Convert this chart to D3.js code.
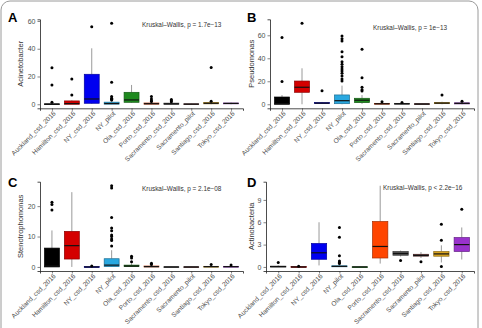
<!DOCTYPE html>
<html lang="en">
<head>
    <meta charset="UTF-8">
    <title>Boxplots by city</title>
    <script src="https://d3js.org/d3.v7.min.js"></script>
    <style>
        body { margin: 0; background: #fff; }
        svg { display: block; font-family: "Liberation Sans", Arial, sans-serif; }
    </style>
</head>
<body>
<svg width="482" height="328"></svg>
<script>
    // categories + fill colours (same order in every panel)
    const categories = ["Auckland_csd_2016", "Hamilton_csd_2016", "NY_csd_2016", "NY_pilot", "Ola_csd_2016",
        "Porto_csd_2016", "Sacramento_csd_2016", "Sacramento_pilot", "Santiago_csd_2016", "Tokyo_csd_2016"];
    const fills = ["#000000", "#d40000", "#0000f0", "#29a8e0", "#1f8a1f",
        "#ff4500", "#555555", "#6e3b3b", "#daa520", "#9932cc"];

    // five numbers per box: [lower whisker, q1, median, q3, upper whisker]
    const acinetoBox = [[0, 0, 0, 0.3, 0.6], [0, 0, 0.5, 2.4, 2.8], [0.2, 0.7, 3.8, 21.6, 40.3], [0, 0.1, 0.5, 1.5, 2.5],
        [1, 1.4, 3.1, 8.6, 13.9], [0, 0.1, 0.4, 0.9, 1.5], [0, 0, 0.3, 0.8, 1.2], [0, 0, 0.1, 0.3, 0.5],
        [0, 0.3, 0.7, 1.3, 1.8], [0, 0.3, 0.6, 0.9, 1.2]];
    const acinetoOut = [[26.3, 13.9, 1.4], [18.2, 6.7], [55.8], [58.3, 15.8, 5.5, 4.3, 3.6, 3.0], [],
        [5.5, 3.8, 2.6, 1.9], [3.5, 2.6, 1.8], [], [26.5, 2.2], []];

    const pseudoBox = [[0, 0, 0.5, 6.3, 8], [0, 10.4, 14.8, 20.2, 31.3], [0.2, 0.6, 1, 1.4, 2], [0, 0.5, 3.1, 8.1, 16.2],
        [0.3, 1.4, 3.5, 5.2, 8], [0, 0.1, 0.4, 0.8, 1.3], [0, 0.1, 0.4, 0.8, 1.2], [0, 0, 0.2, 0.5, 0.8],
        [0, 0.5, 1, 1.5, 2.2], [0, 0.3, 0.8, 1.2, 1.8]];
    const pseudoOut = [[58, 19.7], [70.4], [11.8],
        [59.4, 57, 55, 45.7, 41.4, 37, 34.8, 32.7, 30.7, 29, 27, 24.6, 22, 20.3],
        [47.8, 23.1, 14.8, 12.7, 11.5], [2.2], [1.6], [], [8], [2.6]];

    const stenoBox = [[0, 0, 0.3, 6.2, 12], [0, 2.6, 7, 11.7, 24.6], [0, 0, 0, 0.1, 0.2], [0, 0.1, 0.6, 2.7, 5.5],
        [0, 0.1, 0.3, 0.6, 1.2], [0, 0, 0.1, 0.3, 0.5], [0, 0, 0, 0.05, 0.1], [0, 0, 0, 0.05, 0.1],
        [0, 0, 0.1, 0.2, 0.4], [0, 0, 0.1, 0.2, 0.4]];
    const stenoOut = [[21.3, 20.5, 18.7], [], [0.3], [26.7, 26, 16.3, 12.8, 11.9, 10.5, 10, 9.2, 8.7, 6.9],
        [3.5, 2.9, 1.7], [1.2, 0.8], [], [], [0.8], [0.6]];

    const actinoBox = [[0, 0, 0.05, 0.1, 0.2], [0, 0, 0, 0.05, 0.1], [0.2, 1.03, 1.9, 3.15, 6.0], [0, 0.02, 0.08, 0.15, 0.3],
        [0, 0, 0, 0.02, 0.05], [0.45, 1.2, 2.75, 6.1, 10.9], [1.4, 1.57, 1.8, 2.07, 2.2], [1.2, 1.45, 1.55, 1.7, 2.0],
        [0.6, 1.44, 1.75, 2.07, 2.9], [1.0, 2.07, 3.0, 3.95, 5.3]];
    const actinoOut = [[0.6], [0.1], [], [5.3, 4.0, 1.5, 0.8, 0.6, 0.45], [], [], [0.86], [0.7],
        [5.74, 3.6, 0.05], [7.75]];

    const yTitles = ["Acinetobacter", "Pseudomonas", "Stenotrophomonas", "Actinobacteria"];
    const letters = ["A", "B", "C", "D"];
    const testLabels = ["Kruskal\u2013Wallis, p = 1.7e\u221213", "Kruskal\u2013Wallis, p = 1e\u221213",
        "Kruskal\u2013Wallis, p = 2.1e\u221208", "Kruskal\u2013Wallis, p < 2.2e\u221216"];
    const yTicks = [[0, 20, 40, 60], [0, 20, 40, 60], [0, 10, 20], [0, 3, 6, 9]];

    // panel layout
    const panels = [
        {box: acinetoBox, out: acinetoOut, x0: 40, x1: 243, top: 19.3, bottom: 108.3, lx: 8, ly: 22, tx: 142, ty: 27, ytx: 23},
        {box: pseudoBox, out: pseudoOut, x0: 270, x1: 474, top: 19.3, bottom: 108.3, lx: 247, ly: 22, tx: 373, ty: 30, ytx: 254},
        {box: stenoBox, out: stenoOut, x0: 40, x1: 243, top: 181.7, bottom: 271, lx: 8, ly: 187, tx: 142, ty: 191, ytx: 23},
        {box: actinoBox, out: actinoOut, x0: 266, x1: 474, top: 181.7, bottom: 271, lx: 247, ly: 187, tx: 383, ty: 190, ytx: 254}
    ];

    const svg = d3.select("svg");

    // outer rounded frame
    svg.append("rect").attr("x", 1).attr("y", 1).attr("width", 477).attr("height", 340)
        .attr("rx", 9).attr("fill", "none").attr("stroke", "#9a9a9a").attr("stroke-width", 1);

    panels.forEach(function (p, i) {
        const g = svg.append("g");

        // y domain: data range expanded 5% on each side (ggplot default)
        const allVals = d3.merge([d3.merge(p.box), d3.merge(p.out)]);
        const lo = d3.min(allVals), hi = d3.max(allVals);
        const pad = (hi - lo) * 0.05;
        const y = d3.scaleLinear().domain([lo - pad, hi + pad]).range([p.bottom, p.top]);
        const x = d3.scalePoint().domain(categories).range([p.x0, p.x1]).padding(0.6);
        const bw = x.step() * 0.75;

        // axes
        const yAxis = g.append("g").attr("transform", "translate(" + p.x0 + ",0)")
            .call(d3.axisLeft(y).tickValues(yTicks[i]).tickSize(2.5).tickPadding(2));
        const xAxis = g.append("g").attr("transform", "translate(0," + p.bottom + ")")
            .call(d3.axisBottom(x).tickSize(2.5).tickPadding(2));
        [yAxis, xAxis].forEach(function (a) {
            a.select(".domain").attr("stroke", "#000").attr("stroke-width", 0.7);
            a.selectAll(".tick line").attr("stroke", "#333").attr("stroke-width", 0.6);
            a.selectAll("text").attr("fill", "#4d4d4d").attr("font-size", 7).attr("font-family", "Liberation Sans, Arial");
        });
        xAxis.selectAll("text")
            .attr("font-size", 6.6)
            .attr("text-anchor", "end")
            .attr("dy", "0.35em")
            .attr("x", 0).attr("y", 0)
            .attr("transform", "translate(2,4) rotate(-45)");

        // boxes
        const bx = g.selectAll(".bx").data(p.box).enter().append("g");
        bx.append("line")
            .attr("x1", (d, j) => x(categories[j])).attr("x2", (d, j) => x(categories[j]))
            .attr("y1", d => y(d[0])).attr("y2", d => y(d[1]))
            .attr("stroke", "#808080").attr("stroke-width", 0.8);
        bx.append("line")
            .attr("x1", (d, j) => x(categories[j])).attr("x2", (d, j) => x(categories[j]))
            .attr("y1", d => y(d[3])).attr("y2", d => y(d[4]))
            .attr("stroke", "#808080").attr("stroke-width", 0.8);
        bx.append("rect")
            .attr("x", (d, j) => x(categories[j]) - bw / 2).attr("width", bw)
            .attr("y", d => y(d[3])).attr("height", d => Math.max(y(d[1]) - y(d[3]), 0.8))
            .attr("fill", (d, j) => fills[j])
            .attr("stroke", (d, j) => d3.color(fills[j]).darker(1.2)).attr("stroke-width", 0.7);
        bx.append("line")
            .attr("x1", (d, j) => x(categories[j]) - bw / 2).attr("x2", (d, j) => x(categories[j]) + bw / 2)
            .attr("y1", d => y(d[2])).attr("y2", d => y(d[2]))
            .attr("stroke", "#111").attr("stroke-width", 1.2);

        // outliers
        p.out.forEach(function (vals, j) {
            g.selectAll(null).data(vals).enter().append("circle")
                .attr("cx", x(categories[j])).attr("cy", d => y(d))
                .attr("r", 1.5).attr("fill", "#000");
        });

        // texts
        g.append("text").attr("x", p.lx).attr("y", p.ly).text(letters[i])
            .attr("font-size", 13).attr("font-weight", "bold").attr("fill", "#000");
        g.append("text").attr("x", p.tx).attr("y", p.ty).text(testLabels[i])
            .attr("font-size", 6.4).attr("fill", "#333");
        g.append("text")
            .attr("transform", "translate(" + p.ytx + "," + (p.top + p.bottom) / 2 + ") rotate(-90)")
            .attr("text-anchor", "middle").text(yTitles[i])
            .attr("font-size", 7.5).attr("fill", "#333");
    });
</script>
</body>
</html>
